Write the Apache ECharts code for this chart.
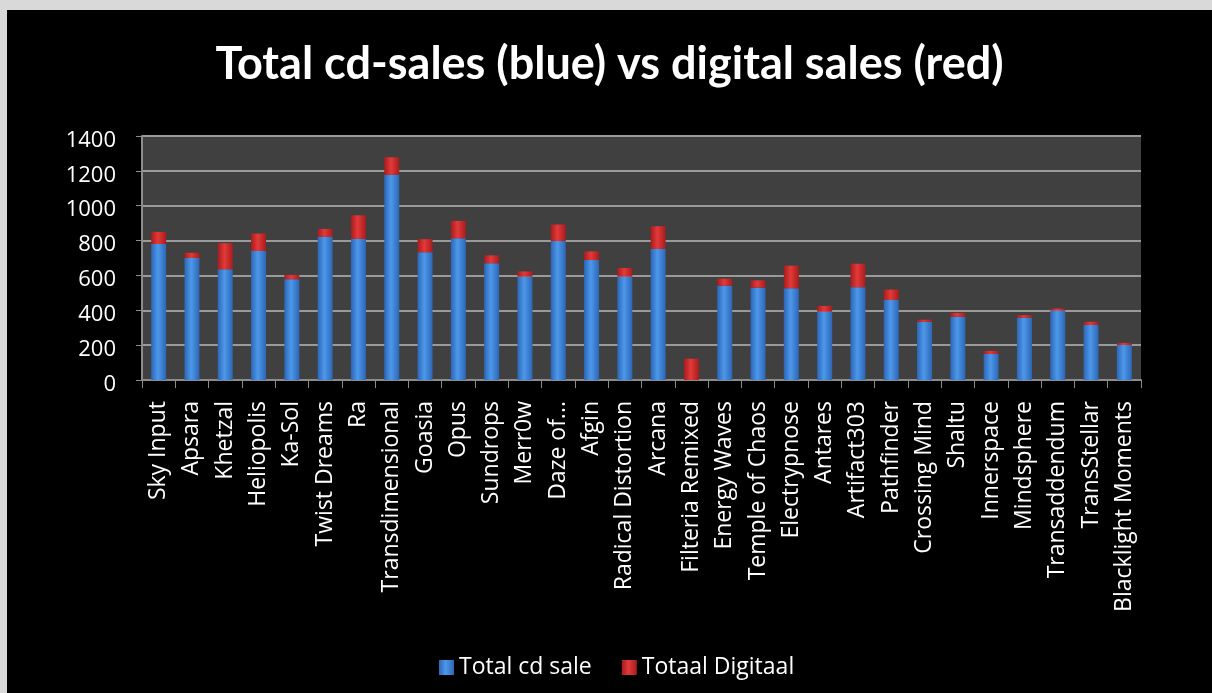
<!DOCTYPE html>
<html>
<head>
<meta charset="utf-8">
<script src="https://cdn.jsdelivr.net/npm/echarts@6/dist/echarts.min.js"></script>
<style>
  html, body { margin: 0; padding: 0; background: #d9d9d9; width: 1212px; height: 693px; overflow: hidden; }
  #chart { position: absolute; left: 7px; top: 10px; width: 1205px; height: 683px; background: #000; }
</style>
</head>
<body>
<div id="chart"></div>
<script>
const categories = ["Sky Input","Apsara","Khetzal","Heliopolis","Ka-Sol","Twist Dreams","Ra","Transdimensional","Goasia","Opus","Sundrops","Merr0w","Daze of...","Afgin","Radical Distortion","Arcana","Filteria Remixed","Energy Waves","Temple of Chaos","Electrypnose","Antares","Artifact303","Pathfinder","Crossing Mind","Shaltu","Innerspace","Mindsphere","Transaddendum","TransStellar","Blacklight Moments"];
const cdSales = [780,700,635,740,578,822,810,1178,733,813,670,593,797,688,593,752,0,541,530,526,392,532,459,334,363,149,357,398,316,201];
const digitalSales = [70,30,150,100,25,45,135,100,75,100,45,30,95,50,50,130,122,40,42,130,33,135,60,12,22,18,15,12,18,12];
const yTicks = { min: 0, max: 1400, interval: 200 };

const chart = echarts.init(document.getElementById('chart'));
const cyl = (edge, mid) => ({
  type: 'linear', x: 0, y: 0, x2: 1, y2: 0,
  colorStops: [{offset: 0, color: edge}, {offset: 0.45, color: mid}, {offset: 1, color: edge}]
});
chart.setOption({
  backgroundColor: '#000',
  animation: false,
  title: {
    text: 'Total cd-sales (blue) vs digital sales (red)',
    left: 'center', top: 27,
    textStyle: { color: '#fff', fontFamily: 'Lato', fontWeight: 'bold', fontSize: 45 }
  },
  legend: {
    left: 427, top: 641,
    itemWidth: 15, itemHeight: 15, itemGap: 30, icon: 'rect',
    textStyle: { color: '#fff', fontFamily: 'Open Sans', fontSize: 23 },
    data: ['Total cd sale', 'Totaal Digitaal']
  },
  grid: { left: 135, right: 71, top: 126, bottom: 313, show: true, backgroundColor: '#404040', borderWidth: 0 },
  xAxis: {
    type: 'category', data: categories,
    axisLine: { lineStyle: { color: '#8c8c8c', width: 2 } },
    axisTick: { show: true, length: 8, lineStyle: { color: '#8c8c8c', width: 1 } },
    axisLabel: { color: '#fff', rotate: 90, interval: 0, margin: 21, fontFamily: 'Open Sans', fontSize: 23 }
  },
  yAxis: {
    type: 'value', min: yTicks.min, max: yTicks.max, interval: yTicks.interval,
    axisLine: { show: true, lineStyle: { color: '#8c8c8c', width: 2 } },
    axisTick: { show: true, length: 6, lineStyle: { color: '#8c8c8c' } },
    axisLabel: {
      color: '#fff', fontFamily: 'Open Sans', fontSize: 22, margin: 26,
      formatter: v => '{a|' + v + '}',
      rich: { a: { color: '#fff', fontFamily: 'Open Sans', fontSize: 22, padding: [9, 0, 0, 0] } }
    },
    splitLine: { lineStyle: { color: '#9a9a9a', width: 2 } }
  },
  series: [
    { name: 'Total cd sale', type: 'bar', stack: 's', data: cdSales, barWidth: 15,
      itemStyle: { color: cyl('#2d66b6', '#4d98ea') } },
    { name: 'Totaal Digitaal', type: 'bar', stack: 's', data: digitalSales, barWidth: 15,
      itemStyle: { color: cyl('#a81c1c', '#e23a3a') } }
  ]
});
</script>
</body>
</html>
